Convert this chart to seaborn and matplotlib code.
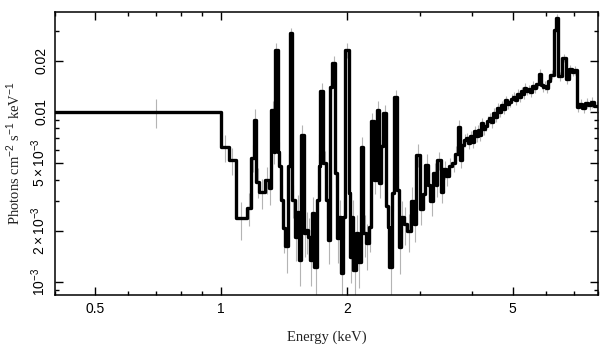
import numpy as np
import pandas as pd
import seaborn as sns
import matplotlib.pyplot as plt
from matplotlib.ticker import FixedLocator, NullFormatter

# bin lower edges (keV), last entry closes the final bin
bin_edges = [0.40, 1.000, 1.045, 1.084, 1.152, 1.180, 1.200, 1.215, 1.232, 1.275,
             1.300, 1.320, 1.337, 1.347, 1.367, 1.380, 1.395, 1.410, 1.425, 1.445,
             1.460, 1.480, 1.500, 1.518, 1.535, 1.555, 1.578, 1.595, 1.612, 1.635,
             1.655, 1.673, 1.697, 1.712, 1.727, 1.757, 1.782, 1.803, 1.824, 1.848,
             1.877, 1.895, 1.915, 1.935, 1.962, 1.980, 2.020, 2.040, 2.055, 2.076,
             2.107, 2.130, 2.160, 2.190, 2.225, 2.260, 2.290, 2.320, 2.360, 2.390,
             2.420, 2.450, 2.480, 2.505, 2.530, 2.565, 2.600, 2.640, 2.665, 2.700,
             2.740, 2.790, 2.850, 2.895, 2.935, 2.990, 3.040, 3.085, 3.130, 3.175,
             3.225, 3.270, 3.300, 3.360, 3.410, 3.460, 3.515, 3.575, 3.640,
             3.690, 3.735, 3.775, 3.815, 3.857, 3.900, 3.942, 3.985, 4.028, 4.072,
             4.116, 4.160, 4.205, 4.250, 4.297, 4.344, 4.391, 4.440, 4.487, 4.536,
             4.585, 4.635, 4.685, 4.736, 4.787, 4.840, 4.892, 4.945, 4.998, 5.053,
             5.108, 5.163, 5.219, 5.276, 5.333, 5.391, 5.449, 5.508, 5.568, 5.630,
             5.690, 5.780, 5.850, 5.895, 5.941, 6.005, 6.071, 6.150,
             6.260, 6.330, 6.420, 6.560, 6.720, 6.800, 6.920, 7.000, 7.110, 7.200,
             7.330, 7.450, 7.580, 7.700, 7.820, 8.100]

# photons cm^-2 s^-1 keV^-1 per bin
flux = [0.0100, 0.0062, 0.0052, 0.00237, 0.00274, 0.0054, 0.0090, 0.0039, 0.00337, 0.0040,
        0.00357, 0.0103, 0.0058, 0.0232, 0.0058, 0.0048, 0.00305, 0.00207, 0.00162, 0.0048,
        0.0290, 0.00305, 0.00185, 0.0026, 0.00135, 0.0073, 0.00194, 0.00203, 0.00185, 0.00135,
        0.00254, 0.00123, 0.00305, 0.0048, 0.0132, 0.0050, 0.00305, 0.00177, 0.0141, 0.0193,
        0.0044, 0.00181, 0.00243, 0.00113, 0.00243, 0.0232, 0.00334, 0.00141, 0.00243, 0.00118,
        0.00194, 0.00132, 0.0062, 0.00194, 0.00169, 0.0021, 0.0088, 0.0040, 0.0103, 0.0038,
        0.0063, 0.0098, 0.00279, 0.00212, 0.00123, 0.00334, 0.0123, 0.0035, 0.0016, 0.0024,
        0.0022, 0.0020, 0.0030, 0.0022, 0.0056, 0.0027, 0.0033, 0.0049, 0.0037, 0.0030,
        0.0044, 0.0037, 0.0052, 0.0034, 0.0046, 0.0042, 0.0048, 0.0050, 0.0057,
        0.0082, 0.0052, 0.0064, 0.0068, 0.0070, 0.0066, 0.0072, 0.0067, 0.0077, 0.0072,
        0.0078, 0.0073, 0.0086, 0.0079, 0.0083, 0.0088, 0.0092, 0.0087, 0.0099, 0.0094,
        0.0106, 0.0100, 0.0110, 0.0104, 0.0117, 0.0111, 0.0114, 0.0120, 0.0123, 0.0117,
        0.0128, 0.0122, 0.0132, 0.0127, 0.0139, 0.0133, 0.0136, 0.0131, 0.0143, 0.0138,
        0.0147, 0.0168, 0.0145, 0.0140, 0.0143, 0.0138, 0.0152, 0.0166,
        0.0302, 0.0358, 0.0162, 0.0208, 0.0156, 0.0178, 0.0172, 0.0176, 0.0107, 0.0112,
        0.0106, 0.0113, 0.0110, 0.0114, 0.0108]

# relative 1-sigma errors per bin
rel_err = [0.20, 0.18, 0.18, 0.25, 0.22, 0.18, 0.15, 0.20, 0.20, 0.18,
           0.20, 0.12, 0.15, 0.10, 0.15, 0.18, 0.22, 0.28, 0.30, 0.18,
           0.08, 0.22, 0.28, 0.25, 0.30, 0.15, 0.28, 0.28, 0.28, 0.30,
           0.25, 0.32, 0.22, 0.18, 0.12, 0.18, 0.22, 0.28, 0.12, 0.10,
           0.18, 0.28, 0.25, 0.32, 0.25, 0.10, 0.22, 0.30, 0.25, 0.32,
           0.28, 0.30, 0.15, 0.28, 0.30, 0.28, 0.12, 0.18, 0.12, 0.18,
           0.15, 0.12, 0.22, 0.28, 0.32, 0.22, 0.10, 0.20, 0.30, 0.25,
           0.25, 0.25, 0.20, 0.22, 0.15, 0.20, 0.18, 0.15, 0.16, 0.18,
           0.14, 0.15, 0.12, 0.14, 0.12, 0.12, 0.11, 0.11, 0.10,
           0.09, 0.10, 0.09, 0.09, 0.08, 0.08, 0.08, 0.08, 0.08, 0.08,
           0.08, 0.08, 0.07, 0.07, 0.07, 0.07, 0.07, 0.07, 0.07, 0.07,
           0.06, 0.06, 0.06, 0.06, 0.06, 0.06, 0.06, 0.06, 0.06, 0.06,
           0.06, 0.06, 0.06, 0.06, 0.06, 0.06, 0.06, 0.06, 0.06, 0.06,
           0.06, 0.06, 0.06, 0.06, 0.06, 0.06, 0.06, 0.06,
           0.05, 0.05, 0.06, 0.06, 0.06, 0.06, 0.06, 0.06, 0.07, 0.07,
           0.07, 0.07, 0.07, 0.07, 0.07]

x_major = [0.5, 1, 2, 5]
x_major_labels = ['0.5', '1', '2', '5']
x_minor = [0.4, 0.6, 0.7, 0.8, 0.9, 3, 4, 6, 7, 8]
y_major = [1e-3, 2e-3, 5e-3, 0.01, 0.02]
y_major_labels = [r'$10^{-3}$', r'$2\times10^{-3}$', r'$5\times10^{-3}$', '0.01', '0.02']
y_minor = [9e-4, 3e-3, 4e-3, 6e-3, 7e-3, 8e-3, 9e-3, 0.03]

sns.set_theme(style="ticks")
plt.rcParams['font.family'] = ['Liberation Sans', 'DejaVu Sans']
plt.rcParams['mathtext.fontset'] = 'custom'
plt.rcParams['mathtext.rm'] = 'Liberation Sans'
plt.rcParams['mathtext.it'] = 'Liberation Sans:italic'
plt.rcParams['mathtext.bf'] = 'Liberation Sans:bold'

edges = np.array(bin_edges)
vals = np.array(flux)
assert len(edges) == len(vals) + 1 == len(rel_err) + 1
centers = 0.5 * (edges[:-1] + edges[1:])
df = pd.DataFrame({'energy': edges, 'flux': np.append(vals, vals[-1])})

fig = plt.figure(figsize=(6.09, 3.57), dpi=100)
ax = fig.add_axes([0.0903, 0.1737, 0.8916, 0.7927])

ax.errorbar(centers, vals, yerr=vals * np.array(rel_err), fmt='none',
            ecolor='#b4b4b4', elinewidth=0.8, zorder=1)
sns.lineplot(data=df, x='energy', y='flux', drawstyle='steps-post', color='black',
             linewidth=2.4, ax=ax, zorder=2, sort=False)

ax.set_xscale('log')
ax.set_yscale('log')
ax.set_xlim(0.4, 8.0)
ax.set_ylim(8.4e-4, 0.0387)

ax.xaxis.set_major_locator(FixedLocator(x_major))
ax.set_xticklabels(x_major_labels)
ax.xaxis.set_minor_locator(FixedLocator(x_minor))
ax.xaxis.set_minor_formatter(NullFormatter())
ax.yaxis.set_major_locator(FixedLocator(y_major))
ax.set_yticklabels(y_major_labels, rotation=90, va='center')
ax.yaxis.set_minor_locator(FixedLocator(y_minor))
ax.yaxis.set_minor_formatter(NullFormatter())

ax.tick_params(which='both', direction='in', top=True, right=True, color='black',
               labelsize=10, labelcolor='black')
ax.tick_params(which='major', length=6, width=1.0, pad=5)
ax.tick_params(which='minor', length=3, width=1.0)
for s in ax.spines.values():
    s.set_linewidth(1.1)
    s.set_color('black')
    s.set_visible(True)

ax.set_xlabel('Energy (keV)', family=['Liberation Serif'], fontsize=10.5, color='#222222')
ax.set_ylabel(r'Photons cm$^{-2}$ s$^{-1}$ keV$^{-1}$', family=['Liberation Serif'],
              fontsize=10.5, color='#222222')
ax.xaxis.set_label_coords(0.5, -0.125)
ax.yaxis.set_label_coords(-0.058, 0.5)

fig.savefig('out.png', dpi=100)
